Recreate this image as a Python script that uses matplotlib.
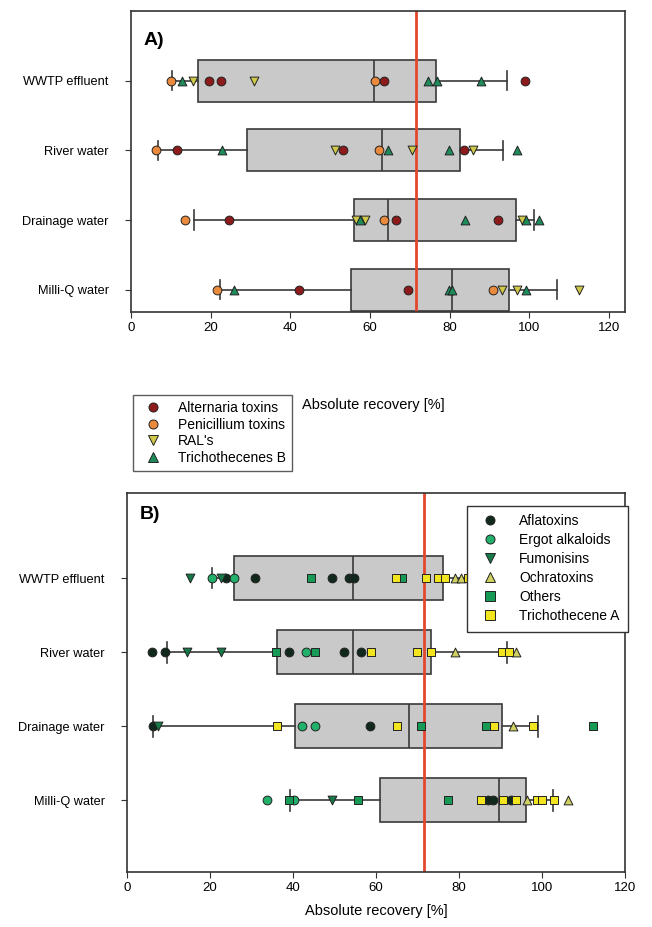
import numpy as np
import matplotlib
matplotlib.use("Agg")
import matplotlib.pyplot as plt
from matplotlib.lines import Line2D

plt.rcParams['font.family'] = ['Liberation Sans', 'DejaVu Sans']

# rows, top to bottom
rows = ["WWTP effluent", "River water", "Drainage water", "Milli-Q water"]
threshold = 71.5

# ---- panel A data (per row, top to bottom)
a_alternaria = [[19.6, 22.6, 63.5, 99.0], [11.6, 53.1, 83.7], [24.7, 66.4, 92.0], [42.1, 69.5]]
a_penicillium = [[10.1, 61.2], [6.4, 62.3], [13.6, 63.5], [21.7, 90.8]]
a_rals = [[15.6, 30.9], [51.2, 70.6, 85.9], [56.5, 58.7, 98.1], [93.1, 97.0, 112.5]]
a_trichb = [[12.7, 74.6, 76.7, 87.9], [22.9, 64.6, 79.8, 97.0], [57.5, 83.9, 99.2, 102.3], [25.9, 79.7, 80.7, 99.2]]
a_whislo = [10.2, 6.9, 15.9, 22.3]
a_q1 = [16.7, 29.0, 56.0, 55.2]
a_med = [61.1, 63.1, 64.6, 80.5]
a_q3 = [76.5, 82.6, 96.6, 94.9]
a_whishi = [94.5, 93.5, 101.2, 107.0]

# ---- panel B data
b_afla = [[23.9, 30.8, 49.3, 53.5, 54.7], [6.0, 9.2, 39.1, 52.3, 56.3], [6.2, 58.6], [87.1, 88.3, 92.5]]
b_ergot = [[20.4, 25.8], [43.1], [42.1, 45.3], [33.8, 40.2]]
b_fumo = [[15.3, 22.7], [14.5, 22.7], [7.5], [49.3]]
b_ochra = [[79.0, 80.5], [79.0, 93.7], [92.9], [96.5, 106.2]]
b_others = [[44.3, 66.2], [35.8, 45.3], [70.8, 86.5, 112.2], [39.1, 55.6, 77.3]]
b_tricha = [[64.7, 72.0, 75.0, 76.6, 82.2], [58.7, 69.8, 73.2, 90.3, 92.0],
            [36.1, 65.0, 88.4, 97.9], [85.3, 90.7, 93.7, 98.7, 100.1, 102.9]]
b_whislo = [20.6, 9.6, 6.2, 39.3]
b_q1 = [25.8, 36.1, 40.6, 61.0]
b_med = [54.5, 54.5, 68.0, 89.6]
b_q3 = [76.2, 73.2, 90.4, 96.1]
b_whishi = [82.2, 91.5, 99.1, 102.7]

W, H = 652, 927
fig = plt.figure(figsize=(W / 100, H / 100), dpi=100)

def px_axes(l, t, r, b):
    return fig.add_axes([l / W, 1 - b / H, (r - l) / W, (b - t) / H])

pos = [3, 2, 1, 0]

def draw_panel(ax, wlo, q1, med, q3, whi, series, xlim, ylim):
    stats = [dict(whislo=wlo[i], q1=q1[i], med=med[i], q3=q3[i], whishi=whi[i], fliers=[])
             for i in range(len(rows))]
    ax.bxp(stats, positions=pos, orientation='horizontal', widths=0.6, capwidths=0.28,
           patch_artist=True, showfliers=False,
           boxprops=dict(facecolor='#c9c9c9', edgecolor='#3a3a3a', linewidth=1.2),
           medianprops=dict(color='#3a3a3a', linewidth=1.2),
           whiskerprops=dict(color='#3a3a3a', linewidth=1.2),
           capprops=dict(color='#3a3a3a', linewidth=1.2), zorder=1)
    ax.axvline(threshold, color='#e2472e', lw=2, zorder=2)
    for vals, marker, color in series:
        for i, v in enumerate(vals):
            ax.scatter(v, [pos[i]] * len(v), marker=marker, s=40, c=color,
                       edgecolors='#222222', linewidths=0.7, zorder=3)
    ax.set_xlim(*xlim)
    ax.set_ylim(*ylim)
    ax.set_yticks(pos)
    ax.set_yticklabels(rows)
    ax.set_xticks([0, 20, 40, 60, 80, 100, 120])
    ax.tick_params(labelsize=9.5, length=4, color='#333333')
    ax.tick_params(axis='y', labelsize=9.2, pad=12)
    for s in ax.spines.values():
        s.set_color('#333333')
        s.set_linewidth(1.2)

# Panel A
axA = px_axes(131, 11, 625, 312)
seriesA = [(a_alternaria, 'o', '#8e1b1b'), (a_penicillium, 'o', '#ea8a3c'),
           (a_rals, 'v', '#cfc84a'), (a_trichb, '^', '#1e8c5a')]
draw_panel(axA, a_whislo, a_q1, a_med, a_q3, a_whishi, seriesA, (0, 124), (-0.32, 4.0))
axA.set_xlabel("Absolute recovery [%]", fontsize=10.5)
axA.xaxis.set_label_coords(0.49, -0.285)
axA.text(0.025, 0.93, "A)", transform=axA.transAxes, fontsize=14, fontweight='bold', va='top')
labelsA = ["Alternaria toxins", "Penicillium toxins", "RAL's", "Trichothecenes B"]
hA = [Line2D([], [], ls='', marker=m, color=c, markeredgecolor='#222222', markersize=6.5,
             markeredgewidth=0.7) for _, m, c in seriesA]
axA.legend(hA, labelsA, loc='upper left', bbox_to_anchor=(133 / W, 1 - 395 / H),
           bbox_transform=fig.transFigure, fontsize=10, frameon=True, fancybox=False,
           edgecolor='#333333', handletextpad=0.8, borderpad=0.45, labelspacing=0.18,
           borderaxespad=0, handlelength=2.0)

# Panel B
axB = px_axes(127, 493, 625, 872)
seriesB = [(b_afla, 'o', '#10291c'), (b_ergot, 'o', '#22b06a'), (b_fumo, 'v', '#177a48'),
           (b_ochra, '^', '#cfcf62'), (b_others, 's', '#169a55'), (b_tricha, 's', '#f2e41e')]
draw_panel(axB, b_whislo, b_q1, b_med, b_q3, b_whishi, seriesB, (0, 120), (-0.97, 4.15))
axB.set_xlabel("Absolute recovery [%]", fontsize=10.5)
axB.xaxis.set_label_coords(0.5, -0.085)
axB.text(0.025, 0.965, "B)", transform=axB.transAxes, fontsize=14, fontweight='bold', va='top')
labelsB = ["Aflatoxins", "Ergot alkaloids", "Fumonisins", "Ochratoxins", "Others", "Trichothecene A"]
hB = [Line2D([], [], ls='', marker=m, color=c, markeredgecolor='#222222', markersize=6.5,
             markeredgewidth=0.7) for _, m, c in seriesB]
legB = axB.legend(hB, labelsB, loc='upper right', bbox_to_anchor=(628 / W, 1 - 506 / H),
                  bbox_transform=fig.transFigure, fontsize=10, frameon=True, fancybox=False,
                  edgecolor='#333333', handletextpad=1.0, borderpad=0.6, labelspacing=0.36,
                  borderaxespad=0, handlelength=2.2)
legB.get_frame().set_alpha(1)
legB.set_zorder(5)

fig.savefig("out.png", dpi=100)
